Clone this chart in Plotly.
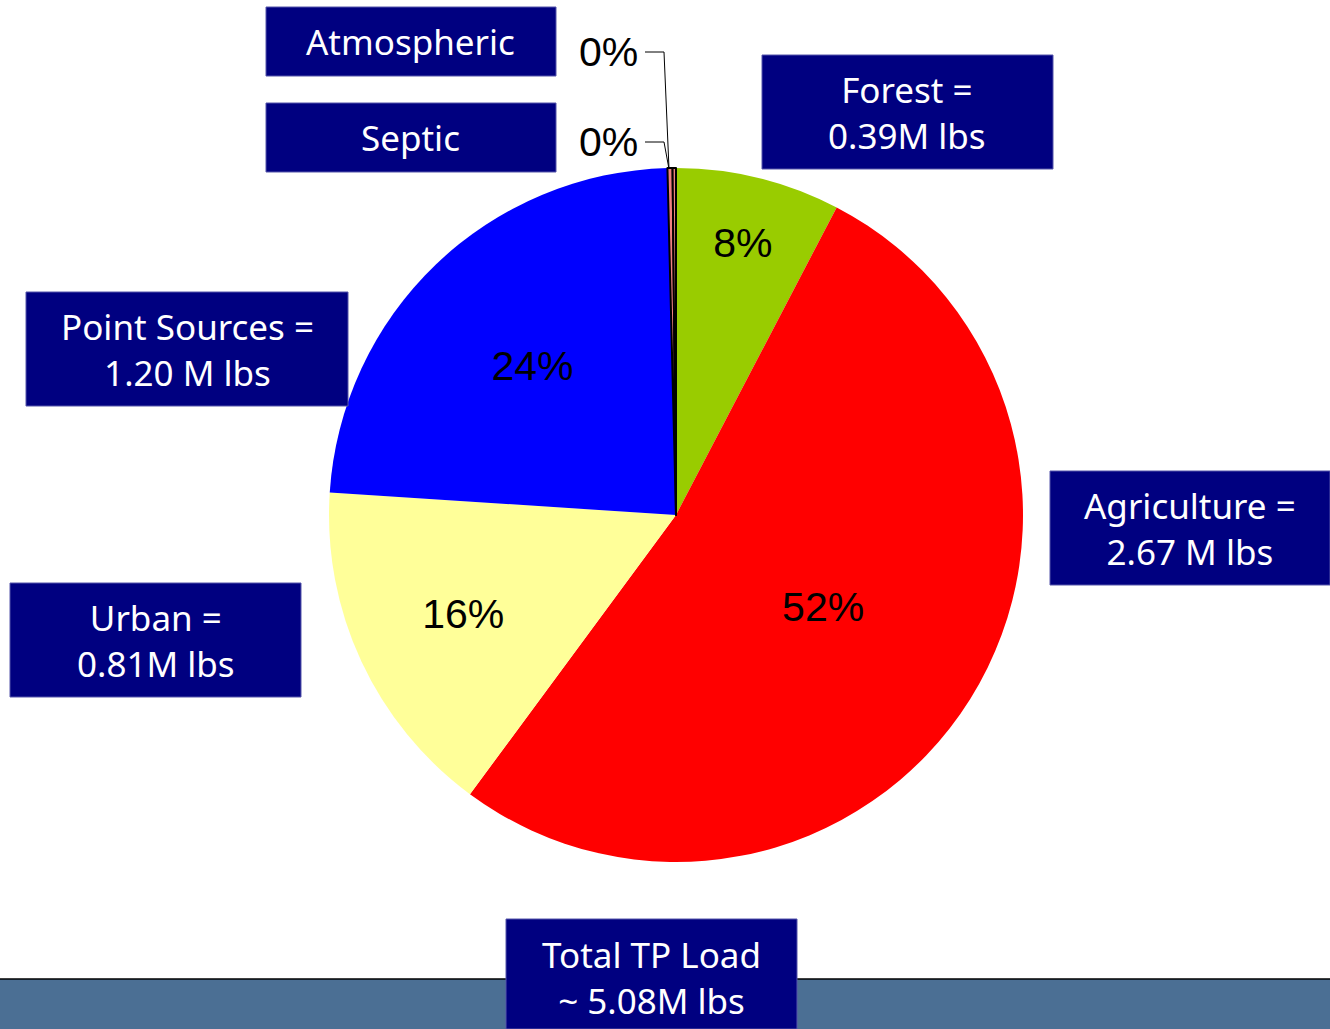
import plotly.graph_objects as go

# ---- data ----
sources = ["Forest", "Agriculture", "Urban", "Point Sources", "Septic", "Atmospheric"]
loads_mlbs = [0.39, 2.67, 0.81, 1.20, 0.012, 0.008]
slice_colors = ["#99CC00", "#FF0000", "#FFFF99", "#0000FF", "#F08080", "#F08080"]
box_labels = {
    "Forest": "Forest =<br>0.39M lbs",
    "Agriculture": "Agriculture =<br>2.67 M lbs",
    "Urban": "Urban =<br>0.81M lbs",
    "Point Sources": "Point Sources =<br>1.20 M lbs",
    "Septic": "Septic",
    "Atmospheric": "Atmospheric",
}
total_label = "Total TP Load<br>~ 5.08M lbs"

W, H = 1330, 1029
NAVY = "#000080"


def px(x):
    return x / W


def py(y):
    return 1 - y / H


total = sum(loads_mlbs)
small = [v / total < 0.005 for v in loads_mlbs]

fig = go.Figure()
fig.add_trace(go.Pie(
    labels=sources,
    values=loads_mlbs,
    sort=False,
    direction="clockwise",
    rotation=0,
    marker=dict(colors=slice_colors,
                line=dict(color="black", width=[2 if s else 0 for s in small])),
    texttemplate="%{percent:.0%}",
    textposition=["none" if s else "inside" for s in small],
    insidetextorientation="horizontal",
    insidetextfont=dict(family="Liberation Sans, Arial", size=41, color="black"),
    domain=dict(x=[px(329), px(1023)], y=[py(862), py(168)]),
    hoverinfo="label+value+percent",
    showlegend=False,
))

shapes = []
annotations = []

# bottom band
shapes.append(dict(type="rect", xref="paper", yref="paper", x0=0, x1=1,
                   y0=0, y1=py(979), fillcolor="#4B6F94", line=dict(width=0), layer="below"))
shapes.append(dict(type="line", xref="paper", yref="paper", x0=0, x1=1,
                   y0=py(979), y1=py(979), line=dict(color="black", width=1.5)))

# label boxes (x0, y0, x1, y1 in pixels)
boxes = {
    "Atmospheric": (266, 7, 556, 76),
    "Septic": (266, 103, 556, 172),
    "Forest": (762, 55, 1053, 169),
    "Point Sources": (26, 292, 348, 406),
    "Agriculture": (1050, 471, 1330, 585),
    "Urban": (10, 583, 301, 697),
}
box_font = dict(family="Noto Sans, Tahoma, DejaVu Sans", size=35, color="white")
for name, (x0, y0, x1, y1) in boxes.items():
    shapes.append(dict(type="rect", xref="paper", yref="paper",
                       x0=px(x0), x1=px(x1), y0=py(y1), y1=py(y0),
                       fillcolor=NAVY, line=dict(color="#5555AA", width=1)))
    annotations.append(dict(xref="paper", yref="paper", x=px((x0 + x1) / 2), y=py((y0 + y1) / 2),
                            text=box_labels[name], showarrow=False, font=box_font,
                            xanchor="center", yanchor="middle", align="center"))

# total box
shapes.append(dict(type="rect", xref="paper", yref="paper",
                   x0=px(506), x1=px(797), y0=py(1029), y1=py(919),
                   fillcolor=NAVY, line=dict(color="#5555AA", width=1)))
annotations.append(dict(xref="paper", yref="paper", x=px(651), y=py(977),
                        text=total_label, showarrow=False, font=box_font,
                        xanchor="center", yanchor="middle", align="center"))

# 0% labels for tiny slices with leader lines
pct_font = dict(family="Liberation Sans, Arial", size=41, color="black")
leader_y = {"Atmospheric": 52, "Septic": 142}
for name, yy in leader_y.items():
    v = loads_mlbs[sources.index(name)]
    annotations.append(dict(xref="paper", yref="paper", x=px(640), y=py(yy),
                            text=f"{v / total:.0%}", showarrow=False, font=pct_font,
                            xanchor="right", yanchor="middle"))
    shapes.append(dict(type="path", xref="paper", yref="paper",
                       path=f"M {px(645)} {py(yy)} L {px(664)} {py(yy)} L {px(669)} {py(169)}",
                       line=dict(color="black", width=1)))

fig.update_layout(
    width=W, height=H,
    margin=dict(l=0, r=0, t=0, b=0),
    paper_bgcolor="white",
    plot_bgcolor="white",
    shapes=shapes,
    annotations=annotations,
    showlegend=False,
)

fig.write_html("out.html", config={"displayModeBar": False},
               post_script="document.body.style.margin='0';")
